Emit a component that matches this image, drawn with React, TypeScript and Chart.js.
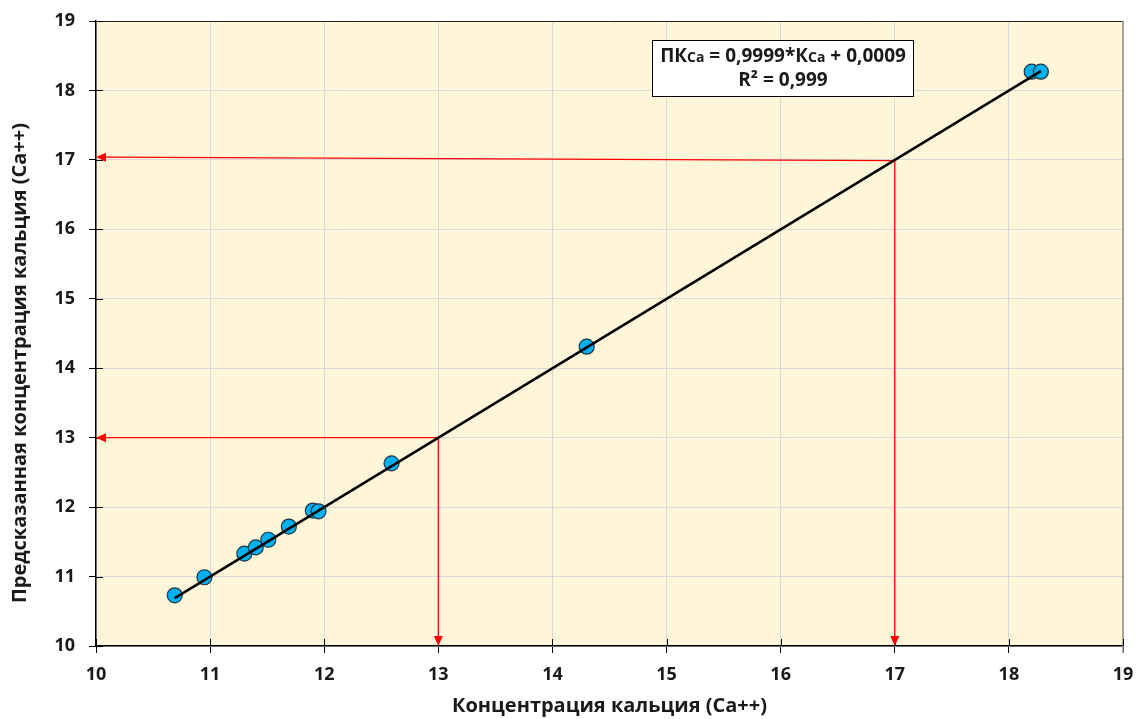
import { useEffect, useRef } from 'react';
import { Chart, registerables } from 'chart.js';

Chart.register(...registerables);

// Measured calcium concentration (Ca++) and the value predicted by the model
const measuredCa = [10.69, 10.95, 11.3, 11.4, 11.51, 11.69, 11.9, 11.95, 12.59, 14.3, 18.2, 18.28];
const predictedCa = [10.73, 10.99, 11.33, 11.42, 11.53, 11.72, 11.95, 11.94, 12.63, 14.31, 18.27, 18.27];

// Linear trend: ПКCa = slope * КCa + intercept
const trendSlope = 0.9999;
const trendIntercept = 0.0009;
const rSquared = 0.999;

// Axis range shared by both axes
const axisMin = 10;
const axisMax = 19;
const axisStep = 1;

// Red read-off guides: each starts on the trend line and ends (arrowhead) on an axis
const guideFromX = [17, 17, 13, 13];
const guideFromY = [16.99, 16.99, 13, 13];
const guideToX = [10, 17, 10, 13];
const guideToY = [17.04, 10, 13, 10];

const xTitle = 'Концентрация кальция (Ca++)';
const yTitle = 'Предсказанная концентрация кальция (Ca++)';

const FONT = "'Open Sans', 'Noto Sans', sans-serif";
const TEXT = '#1a1a1a';

const fmt = (v: number, d: number) => v.toFixed(d).replace('.', ',');

// Equation pieces: [text, isSubscriptSized]
const equationParts: [string, boolean][] = [
  ['ПК', false],
  ['Ca', true],
  [' = ' + fmt(trendSlope, 4) + '*К', false],
  ['Ca', true],
  [' + ' + fmt(trendIntercept, 4), false],
];
const r2Label = 'R² = ' + fmt(rSquared, 3);

const plotDecor = {
  id: 'plotDecor',
  beforeDraw(chart: any) {
    const { ctx, chartArea: a } = chart;
    ctx.save();
    ctx.fillStyle = '#FFF6DA';
    ctx.fillRect(a.left, a.top, a.right - a.left, a.bottom - a.top);
    ctx.restore();
  },
  beforeDatasetsDraw(chart: any) {
    const { ctx, chartArea: a, scales } = chart;
    const xs = scales.x;
    const ys = scales.y;
    ctx.save();

    // frame: dark top edge, grey right edge
    ctx.lineWidth = 1;
    ctx.strokeStyle = '#222';
    ctx.beginPath();
    ctx.moveTo(a.left, a.top + 0.5);
    ctx.lineTo(a.right, a.top + 0.5);
    ctx.stroke();
    ctx.strokeStyle = '#8f8f8f';
    ctx.lineWidth = 1.5;
    ctx.beginPath();
    ctx.moveTo(a.right, a.top);
    ctx.lineTo(a.right, a.bottom + 7);
    ctx.stroke();

    // inner half of the crossing tick marks
    ctx.strokeStyle = '#000';
    ctx.lineWidth = 1;
    xs.ticks.forEach((t: any) => {
      const px = Math.round(xs.getPixelForValue(t.value)) + 0.5;
      ctx.beginPath();
      ctx.moveTo(px, a.bottom);
      ctx.lineTo(px, a.bottom - 7);
      ctx.stroke();
    });
    ys.ticks.forEach((t: any) => {
      const py = Math.round(ys.getPixelForValue(t.value)) + 0.5;
      ctx.beginPath();
      ctx.moveTo(a.left, py);
      ctx.lineTo(a.left + 7, py);
      ctx.stroke();
    });

    // red guide arrows
    ctx.strokeStyle = '#FF0000';
    ctx.fillStyle = '#FF0000';
    ctx.lineWidth = 1.3;
    const headLen = 10;
    const headHalf = 4.5;
    for (let i = 0; i < guideFromX.length; i++) {
      const x0 = xs.getPixelForValue(guideFromX[i]);
      const y0 = ys.getPixelForValue(guideFromY[i]);
      const x1 = xs.getPixelForValue(guideToX[i]);
      const y1 = ys.getPixelForValue(guideToY[i]);
      const ang = Math.atan2(y1 - y0, x1 - x0);
      const bx = x1 - headLen * Math.cos(ang);
      const by = y1 - headLen * Math.sin(ang);
      ctx.beginPath();
      ctx.moveTo(x0, y0);
      ctx.lineTo(bx, by);
      ctx.stroke();
      ctx.beginPath();
      ctx.moveTo(x1, y1);
      ctx.lineTo(bx + headHalf * Math.sin(ang), by - headHalf * Math.cos(ang));
      ctx.lineTo(bx - headHalf * Math.sin(ang), by + headHalf * Math.cos(ang));
      ctx.closePath();
      ctx.fill();
    }
    ctx.restore();
  },
  afterDatasetsDraw(chart: any) {
    const { ctx } = chart;
    ctx.save();
    // equation box
    const bx = 652;
    const by = 40;
    const bw = 262;
    const bh = 57;
    ctx.fillStyle = '#fff';
    ctx.fillRect(bx, by, bw, bh);
    ctx.strokeStyle = '#000';
    ctx.lineWidth = 1;
    ctx.strokeRect(bx + 0.5, by + 0.5, bw - 1, bh - 1);

    const big = `bold 19px ${FONT}`;
    const small = `bold 14px ${FONT}`;
    ctx.fillStyle = TEXT;
    ctx.textBaseline = 'alphabetic';
    ctx.textAlign = 'left';
    let total = 0;
    equationParts.forEach(([s, sm]) => {
      ctx.font = sm ? small : big;
      total += ctx.measureText(s).width;
    });
    let cx = bx + bw / 2 - total / 2;
    equationParts.forEach(([s, sm]) => {
      ctx.font = sm ? small : big;
      ctx.fillText(s, cx, by + 22);
      cx += ctx.measureText(s).width;
    });
    ctx.font = big;
    ctx.textAlign = 'center';
    ctx.fillText(r2Label, bx + bw / 2, by + 46);

    // vertical axis title
    ctx.translate(20, 363);
    ctx.rotate(-Math.PI / 2);
    ctx.font = `bold 20px ${FONT}`;
    ctx.textAlign = 'center';
    ctx.textBaseline = 'middle';
    ctx.fillText(yTitle, 0, 0);
    ctx.restore();
  },
};

export default function App() {
  const ref = useRef<HTMLCanvasElement | null>(null);

  useEffect(() => {
    if (!ref.current) return;
    const xMinData = Math.min(...measuredCa);
    const xMaxData = Math.max(...measuredCa);
    const trend = [xMinData, xMaxData].map((x) => ({ x, y: trendSlope * x + trendIntercept }));
    const points = measuredCa.map((x, i) => ({ x, y: predictedCa[i] }));

    const tickFont = { family: FONT, size: 18, weight: 'bold' as const };
    const titleFont = { family: FONT, size: 20, weight: 'bold' as const, lineHeight: 1 };

    const chart = new Chart(ref.current, {
      type: 'scatter',
      data: {
        datasets: [
          {
            type: 'line',
            label: 'trend',
            data: trend,
            borderColor: '#000',
            borderWidth: 2.5,
            pointRadius: 0,
            fill: false,
            order: 0,
          } as any,
          {
            label: 'Ca++',
            data: points,
            backgroundColor: '#00B0F0',
            borderColor: '#1f3442',
            borderWidth: 1.2,
            pointRadius: 7.5,
            order: 1,
          },
        ],
      },
      plugins: [plotDecor],
      options: {
        responsive: false,
        animation: false,
        layout: { padding: { top: 21, right: 15, bottom: 0, left: 0 } },
        plugins: { legend: { display: false }, tooltip: { enabled: false } },
        scales: {
          x: {
            type: 'linear',
            min: axisMin,
            max: axisMax,
            ticks: { stepSize: axisStep, color: TEXT, font: tickFont, padding: 11 },
            grid: { color: '#D9D9D9', tickColor: '#000', tickLength: 7 },
            border: { color: '#000', width: 1.5 },
            title: {
              display: true,
              text: xTitle,
              color: TEXT,
              font: titleFont,
              padding: { top: 0, bottom: 3 },
            },
            afterFit(scale: any) {
              scale.height = 73;
              scale.paddingLeft = 0;
              scale.paddingRight = 0;
            },
          },
          y: {
            type: 'linear',
            min: axisMin,
            max: axisMax,
            ticks: { stepSize: axisStep, color: TEXT, font: tickFont, padding: 14 },
            grid: { color: '#D9D9D9', tickColor: '#000', tickLength: 7 },
            border: { color: '#000', width: 1.5 },
            afterFit(scale: any) {
              scale.width = 96;
              scale.paddingTop = 0;
              scale.paddingBottom = 0;
            },
          },
        },
      },
    });
    return () => chart.destroy();
  }, []);

  return (
    <div style={{ position: 'fixed', left: 0, top: 0, width: 1138, height: 719, background: '#fff' }}>
      <canvas ref={ref} width={1138} height={719} style={{ display: 'block' }} />
    </div>
  );
}
